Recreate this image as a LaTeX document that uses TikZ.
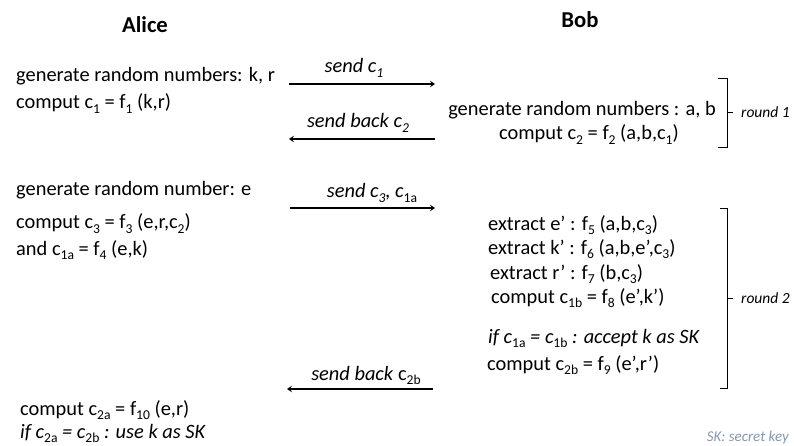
\documentclass[tikz,border=0pt]{standalone}
\usepackage{fontspec}
\setmainfont{Carlito}
\usepackage{tikz}
\usetikzlibrary{arrows.meta}
\definecolor{kxline}{RGB}{0,0,0}
\definecolor{kxnote}{RGB}{132,151,176}
% subscripts as the slides set them: smaller and lowered
\newcommand{\lo}[1]{\raisebox{-0.2em}{\fontsize{13.6}{14}\selectfont #1}}
\newcommand{\lou}[1]{\lo{\upshape #1}}
\tikzset{
  kxText/.style={anchor=base west, inner sep=0pt,
                 font=\fontsize{20.4}{24}\selectfont},
  kxCenter/.style={anchor=base, inner sep=0pt,
                   font=\fontsize{20.4}{24}\selectfont},
  kxHead/.style={anchor=base, inner sep=0pt,
                 font=\fontsize{22.7}{27}\selectfont\bfseries},
  kxRound/.style={anchor=west, inner sep=0pt,
                  font=\fontsize{15.5}{18}\selectfont\itshape},
  kxNote/.style={anchor=base east, inner sep=0pt, text=kxnote,
                 font=\fontsize{15}{18}\selectfont\itshape},
  kxArrow/.style={-{Stealth[length=5pt,width=6.5pt,inset=2pt]},
                  line width=1.3pt, draw=kxline},
  kxBracket/.style={line width=0.9pt, draw=kxline}
}

\begin{document}
\begin{tikzpicture}[x=1pt,y=-1pt]
  \useasboundingbox (0,0) rectangle (794,446);

  % parties
  \node[kxHead] (alice) at (145,33) {Alice};
  \node[kxHead] (bob) at (580,28) {Bob};

  % round 1
  \node[kxText] (aGenKR) at (16,82) {generate random numbers: k, r};
  \node[kxText] (aCompC1) at (16,109) {comput c\lo{1} = f\lo{1} (k,r)};
  \node[kxCenter] (bGenAB) at (582,116) {generate random numbers : a, b};
  \node[kxCenter] (bCompC2) at (589,140) {comput c\lo{2} = f\lo{2} (a,b,c\lo{1})};

  \coordinate (m1a) at (289,84);
  \coordinate (m1b) at (435,84);
  \draw[kxArrow] (m1a) -- (m1b);
  \node[kxCenter] (m1lbl) at (354,73) {\textit{send c\lo{1}}};

  \coordinate (m2a) at (435,139);
  \coordinate (m2b) at (289,139);
  \draw[kxArrow] (m2a) -- (m2b);
  \node[kxCenter] (m2lbl) at (358,128) {\textit{send back c\lo{2}}};

  \coordinate (r1top) at (718,78);
  \coordinate (r1bot) at (718,147);
  \coordinate (r1mid) at (727,112);
  \draw[kxBracket] (r1top) -- ++(9,0) |- (r1bot);
  \draw[kxBracket] (r1mid) -- ++(6,0) coordinate (r1tip);
  \node[kxRound] (r1lbl) at ([xshift=8pt]r1tip) {round 1};

  % round 2
  \node[kxText] (aGenE) at (16,196) {generate random number: e};
  \node[kxText] (aCompC3) at (16,229) {comput c\lo{3} = f\lo{3} (e,r,c\lo{2})};
  \node[kxText] (aCompC1a) at (16,255) {and c\lo{1a} = f\lo{4} (e,k)};

  \coordinate (m3a) at (290,208);
  \coordinate (m3b) at (435,208);
  \draw[kxArrow] (m3a) -- (m3b);
  \node[kxCenter] (m3lbl) at (372,198) {\textit{send c\lo{3}, c}\lo{1a}};

  \node[kxText] (bExtE) at (488,230) {extract e’ : f\lo{5} (a,b,c\lo{3})};
  \node[kxText] (bExtK) at (488,254) {extract k’ : f\lo{6} (a,b,e’,c\lo{3})};
  \node[kxText] (bExtR) at (490,279) {extract r’ : f\lo{7} (b,c\lo{3})};
  \node[kxText] (bCompC1b) at (491,303) {comput c\lo{1b} = f\lo{8} (e’,k’)};
  \node[kxText] (bCheck) at (488,343) {\textit{if c\lou{1a} = c\lou{1b} : accept k as SK}};
  \node[kxText] (bCompC2b) at (487,370) {comput c\lo{2b} = f\lo{9} (e’,r’)};

  \coordinate (m4a) at (433,389);
  \coordinate (m4b) at (287,389);
  \draw[kxArrow] (m4a) -- (m4b);
  \node[kxCenter] (m4lbl) at (366,380) {\textit{send back} c\lo{2b}};

  \coordinate (r2top) at (720,208);
  \coordinate (r2bot) at (720,388);
  \coordinate (r2mid) at (727,298);
  \draw[kxBracket] (r2top) -- ++(7,0) |- (r2bot);
  \draw[kxBracket] (r2mid) -- ++(6,0) coordinate (r2tip);
  \node[kxRound] (r2lbl) at ([xshift=8pt]r2tip) {round 2};

  \node[kxText] (aCompC2a) at (20,415) {comput c\lo{2a} = f\lo{10} (e,r)};
  \node[kxText] (aCheck) at (20,438) {\textit{if c\lou{2a} = c\lou{2b} : use k as SK}};

  \node[kxNote] (skNote) at (789,441) {SK: secret key};
\end{tikzpicture}
\end{document}
